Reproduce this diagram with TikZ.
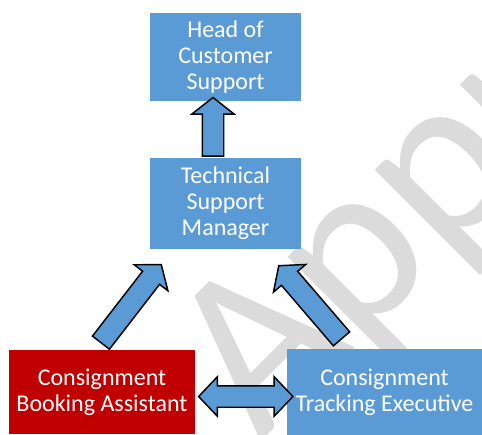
\documentclass[tikz,border=0pt]{standalone}
\usepackage{fontspec}
\setmainfont{Carlito}
\usetikzlibrary{calc}
\usetikzlibrary{shapes.arrows}
\definecolor{boxblue}{RGB}{91,155,213}
\definecolor{boxred}{RGB}{192,0,0}
\definecolor{markgray}{RGB}{219,219,219}
\tikzset{
  rolebox/.style={fill=boxblue, text=white, align=center, inner sep=0pt, font=\fontsize{18}{19.5}\selectfont},
  fatarrow/.style={single arrow, draw=black, fill=boxblue, line width=1.1pt, inner sep=0pt, text height=15pt, text depth=0pt, text width=0pt, single arrow head extend=7.9pt, single arrow tip angle=104},
  twinarrow/.style={double arrow, draw=black, fill=boxblue, line width=1.1pt, inner sep=0pt, text height=15pt, text depth=0pt, text width=0pt, double arrow head extend=6.75pt, double arrow tip angle=93}
}
\newcommand{\blockarrow}[3]{\path let \p1=($(#3)-(#2)$), \n1={atan2(\y1,\x1)}, \n2={veclen(\x1,\y1)} in node[#1, minimum height=\n2, rotate=\n1, anchor=tail] at (#2) {};}
\begin{document}
\begin{tikzpicture}[x=0.75pt, y=-0.75pt]
\useasboundingbox (0,0) rectangle (482,435);
\begin{scope}
\clip (0,0) rectangle (482,435);
\node[text=markgray, rotate=45, inner sep=0pt, anchor=base west, font=\fontsize{175}{175}\selectfont] (mark) at (260,443) {Appr};
\end{scope}

\node[rolebox, minimum width=113pt, minimum height=66pt] (head) at (225.5,57) {Head of\\Customer\\Support};
\node[rolebox, minimum width=113pt, minimum height=68pt] (tsm) at (225.5,203.5) {Technical\\Support\\Manager};
\node[rolebox, fill=boxred, minimum width=140pt, minimum height=63pt] (cba) at (102,392) {Consignment\\Booking Assistant};
\node[rolebox, minimum width=146pt, minimum height=65pt] (cte) at (384.5,392) {Consignment\\Tracking Executive};

\coordinate (up0) at ($(tsm.north)+(-12.5,-1)$);
\coordinate (up1) at ($(head.south)+(-12.5,-3)$);
\coordinate (bl0) at ($(cba.north)+(-1.5,-6.5)$);
\coordinate (bl1) at ($(tsm.south west)+(11,16)$);
\coordinate (br0) at ($(cte.north)+(-42.5,-9)$);
\coordinate (br1) at ($(tsm.south east)+(-22,17)$);
\coordinate (lr0) at ($(cba.east)+(2,4.5)$);

\blockarrow{fatarrow}{up0}{up1}
\blockarrow{fatarrow}{bl0}{bl1}
\blockarrow{fatarrow}{br0}{br1}
\path let \p1=($(cte.west)-(lr0)$) in node[twinarrow, minimum height=\x1+3.75pt, anchor=tip 2] at (lr0) {};
\end{tikzpicture}
\end{document}
